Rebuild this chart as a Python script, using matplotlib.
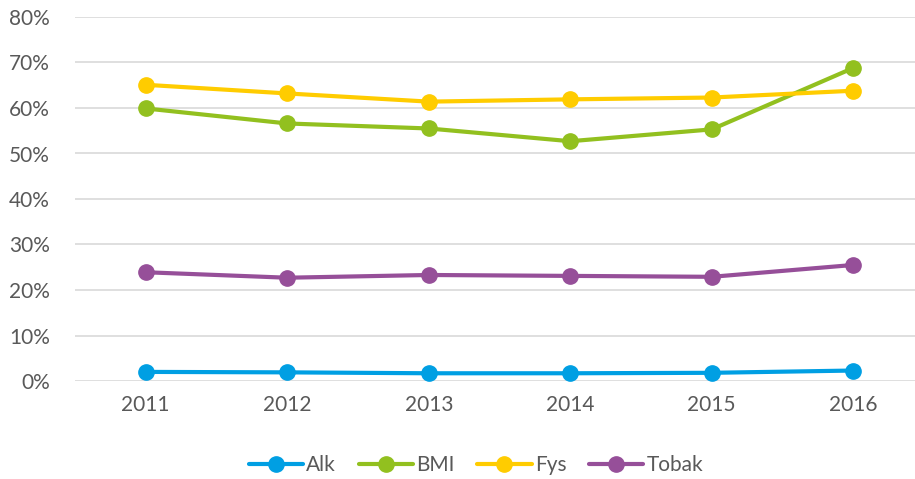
import matplotlib
matplotlib.use('Agg')
import matplotlib.pyplot as plt
from matplotlib.ticker import FuncFormatter

# data
years = ['2011', '2012', '2013', '2014', '2015', '2016']
alk = [2.0, 1.9, 1.7, 1.7, 1.8, 2.3]
bmi = [59.9, 56.6, 55.5, 52.7, 55.3, 68.8]
fys = [65.1, 63.2, 61.4, 61.9, 62.3, 63.8]
tobak = [23.9, 22.7, 23.3, 23.1, 22.9, 25.5]

series = [('Alk', alk, '#009FE3'),
          ('BMI', bmi, '#92C01F'),
          ('Fys', fys, '#FFCC00'),
          ('Tobak', tobak, '#964F99')]

plt.rcParams['font.family'] = ['Lato', 'DejaVu Sans']
grey = '#595959'

fig = plt.figure(figsize=(9.15, 4.79), dpi=100)
ax = fig.add_axes([75 / 915, 98 / 479, 849 / 915, 364 / 479])

x = list(range(len(years)))
for navn, verdier, farge in series:
    ax.plot(x, verdier, color=farge, lw=3, marker='o', ms=11, label=navn,
            solid_capstyle='round', zorder=3)

ax.set_xlim(-0.5, 5.5)
ax.set_ylim(0, 80)
ax.set_yticks(range(0, 81, 10))
ax.yaxis.set_major_formatter(FuncFormatter(lambda v, p: f'{v:.0f}%'))
ax.set_xticks(x)
ax.set_xticklabels(years)
ax.grid(axis='y', color='#D9D9D9', lw=1.2)
ax.set_axisbelow(True)
for s in ax.spines.values():
    s.set_visible(False)
ax.tick_params(length=0, labelsize=15, colors=grey, pad=10)
ax.tick_params(axis='y', pad=18)

leg = fig.legend(loc='center', bbox_to_anchor=(476 / 915, 1 - 465 / 479), ncol=4,
                 frameon=False, fontsize=15, handlelength=2.6, handletextpad=0.15,
                 columnspacing=1.1)
for t in leg.get_texts():
    t.set_color(grey)

fig.savefig('out.png', dpi=100)
